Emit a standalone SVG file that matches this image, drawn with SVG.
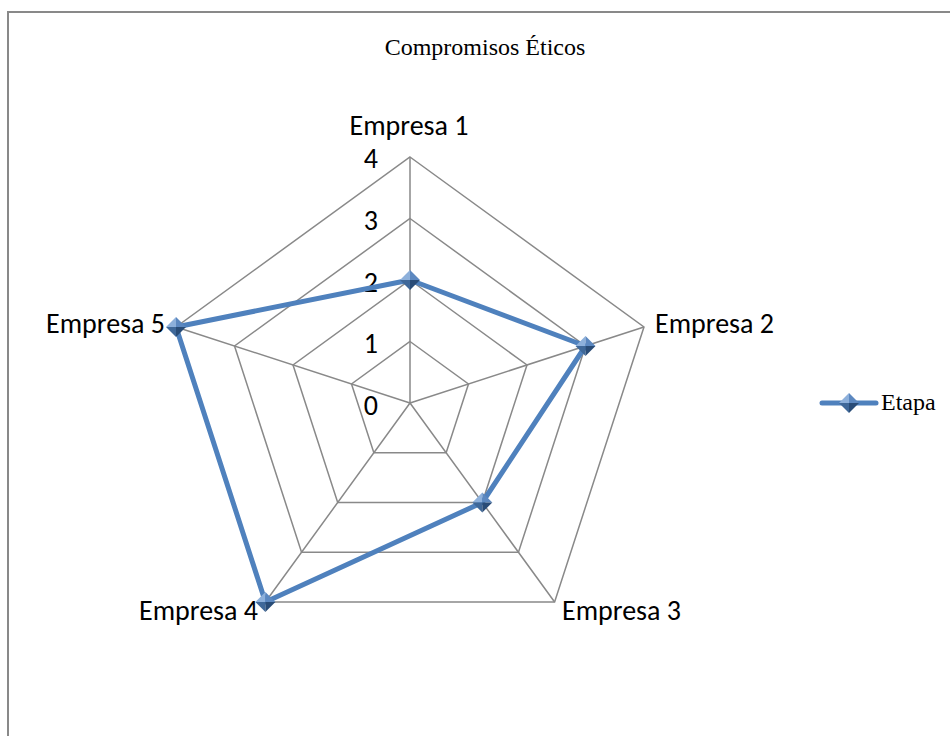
<svg xmlns="http://www.w3.org/2000/svg" width="950" height="736" viewBox="0 0 950 736">
  <style>
    .grid { fill: none; stroke: #898989; stroke-width: 1.5; }
    .series { fill: none; stroke: #4F81BD; stroke-width: 5; stroke-linejoin: round; stroke-linecap: round; }
    .cat { font-family: Carlito, "Liberation Sans", Arial, sans-serif; font-size: 28px; fill: #000; }
    .tick { font-family: Carlito, "Liberation Sans", Arial, sans-serif; font-size: 28px; fill: #000; text-anchor: end; }
    .serif { font-family: "Liberation Serif", "Times New Roman", serif; font-size: 24px; fill: #000; }
  </style>
  <defs>
    <!-- faceted diamond marker for the data series -->
    <g id="mk">
      <polygon points="0,-10 -10,0 0,0" fill="#8DB0DB"/>
      <polygon points="0,-10 10,0 0,0" fill="#5C88C0"/>
      <polygon points="-10,0 0,10 0,0" fill="#3F6899"/>
      <polygon points="10,0 0,10 0,0" fill="#294C77"/>
    </g>
  </defs>

  <rect x="0" y="0" width="950" height="736" fill="#fff"/>
  <!-- chart area frame -->
  <rect x="8" y="12" width="960" height="740" fill="none" stroke="#898989" stroke-width="2"/>

  <text class="serif" x="485" y="55" text-anchor="middle">Compromisos Éticos</text>

  <!-- radar grid -->
  <g id="grid">
    <polygon class="grid" points="410,157 643.97,326.98 554.6,602 265.4,602 176.03,326.98"/>
    <polygon class="grid" points="410,218.5 585.48,346 518.45,552.3 301.55,552.3 234.52,346"/>
    <polygon class="grid" points="410,280 526.98,365 482.3,502.5 337.7,502.5 293.02,365"/>
    <polygon class="grid" points="410,341.5 468.49,384 446.15,452.75 373.85,452.75 351.51,384"/>
    <path class="grid" d="M410,403 L410,157 M410,403 L643.97,326.98 M410,403 L554.6,602 M410,403 L265.4,602 M410,403 L176.03,326.98"/>
  </g>

  <!-- value axis labels -->
  <g id="ticks">
    <text class="tick" x="378" y="168">4</text>
    <text class="tick" x="378" y="230">3</text>
    <text class="tick" x="378" y="292">2</text>
    <text class="tick" x="378" y="353">1</text>
    <text class="tick" x="378" y="415">0</text>
  </g>

  <!-- category labels -->
  <g id="empresa1"><text class="cat" x="409" y="135" text-anchor="middle">Empresa 1</text></g>
  <g id="empresa2"><text class="cat" x="655" y="333">Empresa 2</text></g>
  <g id="empresa3"><text class="cat" x="562" y="620">Empresa 3</text></g>
  <g id="empresa4"><text class="cat" x="258" y="620" text-anchor="end">Empresa 4</text></g>
  <g id="empresa5"><text class="cat" x="165" y="333" text-anchor="end">Empresa 5</text></g>

  <!-- data series: Etapa -->
  <g id="connectors">
    <polygon class="series" points="410,280 585.48,346 482.3,502.5 265.4,602 176.03,326.98"/>
  </g>
  <g id="markers">
    <use href="#mk" x="410" y="280"/>
    <use href="#mk" x="585.48" y="346"/>
    <use href="#mk" x="482.3" y="502.5"/>
    <use href="#mk" x="265.4" y="602"/>
    <use href="#mk" x="176.03" y="326.98"/>
  </g>

  <!-- legend -->
  <g id="legend">
    <line x1="822" y1="403" x2="876" y2="403" stroke="#4F81BD" stroke-width="5" stroke-linecap="round"/>
    <use href="#mk" x="849" y="403"/>
    <text class="serif" x="881" y="410">Etapa</text>
  </g>
</svg>
